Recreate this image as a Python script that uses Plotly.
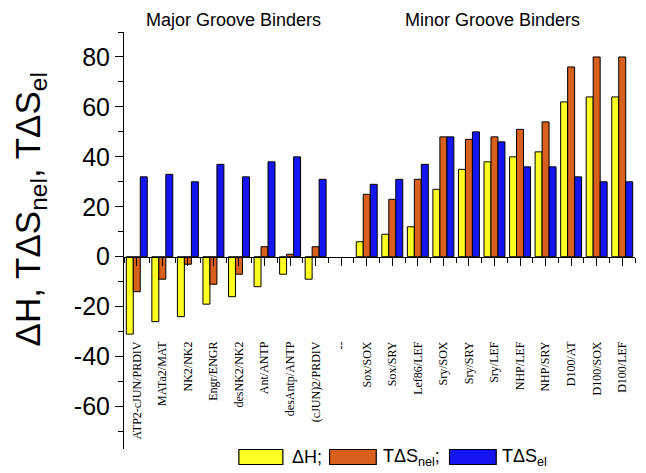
import plotly.graph_objects as go

categories = ["ATP2-cJUN/PRDIV", "MATa2/MAT", "NK2/NK2", "Engr/ENGR", "desNK2/NK2",
              "Ant/ANTP", "desAntp/ANTP", "(cJUN)2/PRDIV", "--",
              "Sox/SOX", "Sox/SRY", "Lef86/LEF", "Sry/SOX", "Sry/SRY", "Sry/LEF",
              "NHP/LEF", "NHP/SRY", "D100/AT", "D100/SOX", "D100/LEF"]
dH = [-31, -26, -24, -19, -16, -12, -7, -9, None,
      6, 9, 12, 27, 35, 38, 40, 42, 62, 64, 64]
TdS_nel = [-14, -9, -3, -11, -7, 4, 1, 4, None,
           25, 23, 31, 48, 47, 48, 51, 54, 76, 80, 80]
TdS_el = [32, 33, 30, 37, 32, 38, 40, 31, None,
          29, 31, 37, 48, 50, 46, 36, 36, 32, 30, 30]
y_tickvals = [-60, -40, -20, 0, 20, 40, 60, 80]
y_ticktext = ["-60", "-40", "-20", "0", "20", "40", "60", "80"]

# page has an 8px body margin; figure drawn at (8, 8)
OFF = 8
PAGE_W, PAGE_H = 646, 473
W, H = PAGE_W - OFF, PAGE_H - OFF
L, R, T, B = 124.4, 635.5, 32, 449.5   # plot area in page pixels
YMIN, YMAX = -77, 90

def px(xp):
    return (xp - L) / (R - L)

def py(yp):
    return (B - yp) / (B - T)

idx = list(range(len(categories)))
colors = ["#FFFF22", "#D95F1C", "#1515F2"]
names = ["ΔH", "TΔS<sub>nel</sub>", "TΔS<sub>el</sub>"]

fig = go.Figure()
for vals, c, n in zip([dH, TdS_nel, TdS_el], colors, names):
    fig.add_trace(go.Bar(x=idx, y=vals, name=n, marker=dict(color=c, line=dict(color="black", width=1)),
                         showlegend=False))

fig.update_layout(
    width=W, height=H,
    margin=dict(l=L - OFF, r=W - (R - OFF), t=T - OFF, b=H - (B - OFF), pad=0),
    plot_bgcolor="white", paper_bgcolor="white",
    barmode="group", bargap=0.18, bargroupgap=0,
    font=dict(family="Liberation Sans, Arial", color="black"),
    xaxis=dict(
        range=[-0.5, len(categories) - 0.5],
        anchor="free", position=(0 - YMIN) / (YMAX - YMIN),
        tickvals=idx, ticktext=categories, tickangle=-90,
        tickfont=dict(family="Liberation Serif, Times New Roman", size=12, color="black"),
        ticks="outside", ticklen=8, tickwidth=1, tickcolor="black",
        minor=dict(tickvals=[i - 0.5 for i in range(len(categories) + 1)], ticks="outside",
                   ticklen=5, tickwidth=1, tickcolor="black"),
        ticklabelstandoff=71,
        showline=True, linecolor="black", linewidth=1,
        showgrid=False, zeroline=False,
    ),
    yaxis=dict(
        range=[YMIN, YMAX],
        tickvals=y_tickvals, ticktext=y_ticktext,
        tickfont=dict(size=25, color="black"),
        ticks="outside", ticklen=8, tickwidth=1, tickcolor="black",
        minor=dict(dtick=10, tick0=0, ticks="outside", ticklen=5, tickwidth=1, tickcolor="black"),
        showline=True, linecolor="black", linewidth=1,
        showgrid=False, zeroline=False,
    ),
)

ann = []
ann.append(dict(text="ΔH, TΔS<sub>nel</sub>, TΔS<sub>el</sub>", textangle=-90,
                x=px(30), y=py(210), xref="paper", yref="paper", xanchor="center", yanchor="middle",
                showarrow=False, font=dict(size=35, color="black")))
ann.append(dict(text="Major Groove Binders", x=px(234), y=py(20), xref="paper", yref="paper",
                xanchor="center", yanchor="middle", showarrow=False, font=dict(size=18, color="black")))
ann.append(dict(text="Minor Groove Binders", x=px(492.5), y=py(20), xref="paper", yref="paper",
                xanchor="center", yanchor="middle", showarrow=False, font=dict(size=18, color="black")))

legend_items = [("ΔH;", colors[0], 239.3, 283.3, 290),
                ("TΔS<sub>nel</sub>;", colors[1], 330, 376.7, 381),
                ("TΔS<sub>el</sub>", colors[2], 450, 496.7, 500)]
shapes = []
for txt, c, x0, x1, tx in legend_items:
    shapes.append(dict(type="rect", xref="paper", yref="paper", x0=px(x0), x1=px(x1),
                       y0=py(465), y1=py(450), fillcolor=c, line=dict(color="black", width=1.2)))
    ann.append(dict(text=txt, x=px(tx), y=py(458), xref="paper", yref="paper",
                    xanchor="left", yanchor="middle", showarrow=False, font=dict(size=18, color="black")))

fig.update_layout(annotations=ann, shapes=shapes)
fig.write_html("out.html")
